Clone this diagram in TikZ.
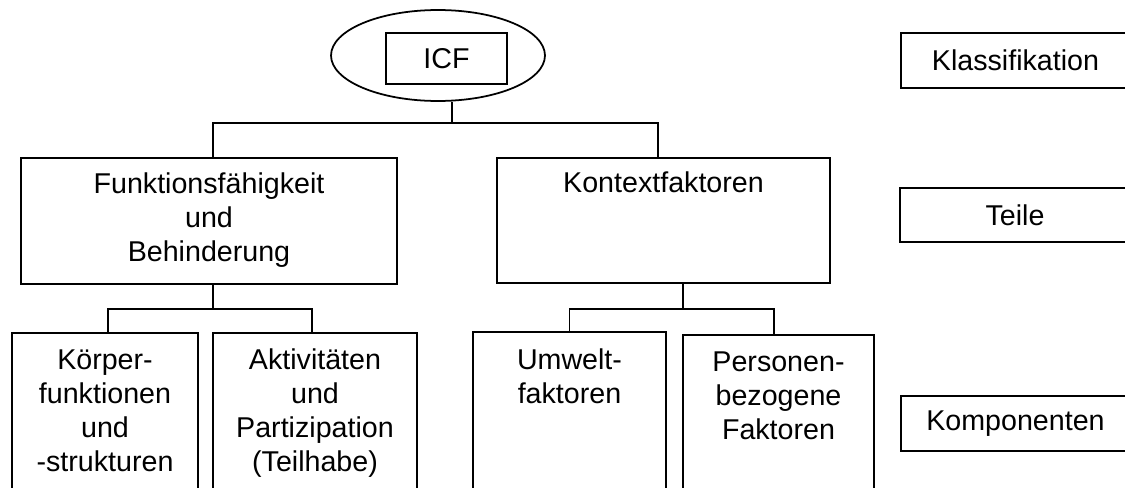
\documentclass[tikz,border=0pt]{standalone}
\usepackage{fontspec}
\setmainfont{Liberation Sans}
\usetikzlibrary{shapes.geometric}
\begin{document}
\begin{tikzpicture}[
    x=0.02cm, y=-0.02cm,
    kasten/.style={draw, line width=1pt, inner sep=0pt,
                   font=\fontsize{16.3}{19.2}\selectfont},
    beschriftung/.style={anchor=base, align=center, inner sep=0pt,
                   font=\fontsize{16.3}{19.2}\selectfont},
    linie/.style={line width=1pt}
]
    \clip (0,0) rectangle (1125,487);

    % Klassifikation
    \node[kasten, ellipse, minimum width=4.28cm, minimum height=1.82cm] (icfell) at (438,55.5) {};
    \node[kasten, minimum width=2.42cm, minimum height=1.02cm] (icf) at (446.5,58.5) {ICF};

    % Teile (base = letzte Zeile)
    \node[kasten, minimum width=7.52cm, minimum height=2.52cm] (funk) at (209,221) {};
    \node[kasten, minimum width=6.66cm, minimum height=2.50cm] (kon) at (663.5,220.5) {};
    \node[beschriftung] (funktxt) at ([yshift=-2.08cm]funk.north) {Funktionsfähigkeit\\und\\Behinderung};
    \node[beschriftung] (kontxt) at ([yshift=-0.70cm]kon.north) {Kontextfaktoren};

    % Komponenten
    \node[kasten, minimum width=3.72cm, minimum height=3.54cm] (koerper) at (105,421.5) {};
    \node[kasten, minimum width=4.08cm, minimum height=3.54cm] (aktiv) at (315,421.5) {};
    \node[kasten, minimum width=3.86cm, minimum height=3.56cm] (umwelt) at (569.5,421) {};
    \node[kasten, minimum width=3.82cm, minimum height=3.50cm] (pers) at (778.5,422.5) {};
    \node[beschriftung] (koerpertxt) at ([yshift=-2.78cm]koerper.north) {Körper-\\funktionen\\und\\-strukturen};
    \node[beschriftung] (aktivtxt) at ([yshift=-2.78cm]aktiv.north) {Aktivitäten\\und\\Partizipation\\(Teilhabe)};
    \node[beschriftung] (umwelttxt) at ([yshift=-1.45cm]umwelt.north) {Umwelt-\\faktoren};
    \node[beschriftung] (perstxt) at ([yshift=-2.10cm]pers.north) {Personen-\\bezogene\\Faktoren};

    % Ebenen rechts
    \node[kasten, minimum width=4.58cm, minimum height=1.10cm] (klass) at (1015.5,60.5) {Klassifikation};
    \node[kasten, minimum width=4.60cm, minimum height=1.08cm] (teile) at (1015,215) {Teile};
    \node[kasten, minimum width=4.58cm, minimum height=1.10cm] (komp) at (1015.5,423.5) {Komponenten};

    % Verbindungen
    \coordinate (j0) at (452,123);
    \coordinate (j1) at (213,309);
    \coordinate (j2) at (683,309);
    \draw[linie] ([xshift=0.28cm]icfell.south) -- (j0);
    \draw[linie] ([xshift=0.08cm]funk.north) |- (j0) -| ([xshift=-0.11cm]kon.north);
    \draw[linie] ([xshift=0.08cm]funk.south) -- (j1);
    \draw[linie] ([xshift=0.06cm]koerper.north) |- (j1) -| ([xshift=-0.06cm]aktiv.north);
    \draw[linie] ([xshift=0.39cm]kon.south) -- (j2);
    \draw[linie] (umwelt.north) |- (j2) -| ([xshift=-0.09cm]pers.north);
\end{tikzpicture}
\end{document}
